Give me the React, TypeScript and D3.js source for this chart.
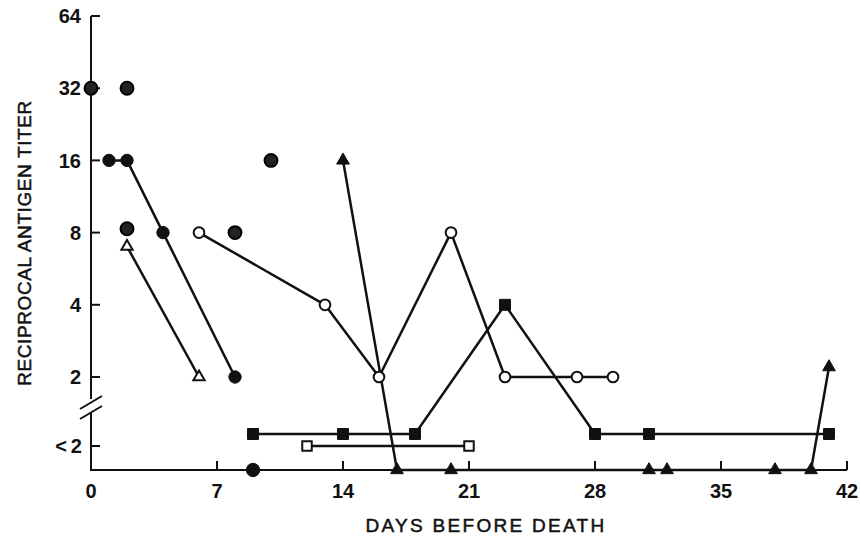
import * as d3 from 'd3';

const width = 860;
const height = 540;

// x axis: days before death, y axis: titer (log2), with a "<2" band under the break
const xTicks = [0, 7, 14, 21, 28, 35, 42];
const yTicks = [2, 4, 8, 16, 32, 64];
const lowTickLabel = '<\u20092';
const lowTickValue = 1;

// values below 2 are "<2" results, spread over the band below the axis break
const daysFilledCircle = [1, 2, 4, 8];
const titerFilledCircle = [16, 16, 8, 2];

const daysOpenTriangle = [2, 6];
const titerOpenTriangle = [7, 2];

const daysOpenCircle = [6, 13, 16, 20, 23, 27, 29];
const titerOpenCircle = [8, 4, 2, 8, 2, 2, 2];

const daysFilledTriangle = [14, 17, 20, 31, 32, 38, 40, 41];
const titerFilledTriangle = [16, 0, 0, 0, 0, 0, 0, 2.2];

const daysFilledSquare = [9, 14, 18, 23, 28, 31, 41];
const titerFilledSquare = [1.5, 1.5, 1.5, 4, 1.5, 1.5, 1.5];

const daysOpenSquare = [12, 21];
const titerOpenSquare = [1, 1];

const daysSingle = [9];
const titerSingle = [0];

// single determinations (shaded dots)
const daysShaded = [0, 2, 2, 8, 10];
const titerShaded = [32, 32, 8.3, 8, 16];

const x = d3.scaleLinear().domain([0, 42]).range([91, 847]);
const yLog = d3.scaleLog().base(2).domain([2, 64]).range([377, 16]);
const yLow = d3.scaleLinear().domain([0, 1]).range([470, 446]);
const y = (v: number) => (v >= 2 ? yLog(v) : yLow(v));

const zip = (a: number[], b: number[]) => a.map((d, i) => [d, b[i]] as [number, number]);

const line = d3
  .line<[number, number]>()
  .x((d) => x(d[0]))
  .y((d) => y(d[1]));

const sym = (type: d3.SymbolType, size: number) => d3.symbol().type(type).size(size)() || '';

const series = [
  { pts: zip(daysFilledCircle, titerFilledCircle), shape: sym(d3.symbolCircle, 120), open: false, joined: true },
  { pts: zip(daysOpenTriangle, titerOpenTriangle), shape: sym(d3.symbolTriangle, 55), open: true, joined: true },
  { pts: zip(daysOpenCircle, titerOpenCircle), shape: sym(d3.symbolCircle, 90), open: true, joined: true },
  { pts: zip(daysFilledTriangle, titerFilledTriangle), shape: sym(d3.symbolTriangle, 70), open: false, joined: true },
  { pts: zip(daysFilledSquare, titerFilledSquare), shape: sym(d3.symbolSquare, 120), open: false, joined: true },
  { pts: zip(daysOpenSquare, titerOpenSquare), shape: sym(d3.symbolSquare, 90), open: true, joined: true },
  { pts: zip(daysSingle, titerSingle), shape: sym(d3.symbolCircle, 140), open: false, joined: false },
];

const shaded = zip(daysShaded, titerShaded);

const font = '"Liberation Sans", Arial, Helvetica, sans-serif';
const ink = '#111';

export default function App() {
  const axisX = x(0);
  const base = yLow(0);
  return (
    <svg width={width} height={height} style={{ position: 'absolute', left: 0, top: 0, background: '#fff' }}>
      {/* y axis with break */}
      <g stroke={ink} strokeWidth={2} fill="none">
        <line x1={axisX} x2={axisX} y1={yLog(64)} y2={399} />
        <line x1={axisX} x2={axisX} y1={413} y2={base + 1} />
        <line x1={80} y1={409} x2={102} y2={396} />
        <line x1={80} y1={419} x2={102} y2={406} />
        <line x1={axisX} x2={x(42)} y1={base} y2={base} />
        {yTicks.map((t) => (
          <line key={t} x1={axisX} x2={axisX + 9} y1={yLog(t)} y2={yLog(t)} />
        ))}
        <line x1={axisX} x2={axisX + 9} y1={yLow(lowTickValue)} y2={yLow(lowTickValue)} />
        {xTicks.map((t) => (
          <line key={t} x1={x(t)} x2={x(t)} y1={base} y2={base - 9} />
        ))}
      </g>
      <g fontFamily={font} fontWeight="bold" fontSize={20} fill={ink}>
        {yTicks.map((t) => (
          <text key={t} x={81} y={yLog(t)} dy="0.36em" textAnchor="end">
            {t}
          </text>
        ))}
        <text x={82} y={yLow(lowTickValue)} dy="0.36em" textAnchor="end">
          {lowTickLabel}
        </text>
        {xTicks.map((t) => (
          <text key={t} x={x(t)} y={498} textAnchor="middle">
            {t}
          </text>
        ))}
      </g>
      <g fontFamily={font} fontSize={19} fill={ink} stroke={ink} strokeWidth={0.5}>
        <text x={486} y={532} textAnchor="middle" letterSpacing={2.3}>
          DAYS BEFORE DEATH
        </text>
        <text transform={`translate(31, 243) rotate(-90)`} textAnchor="middle" letterSpacing={0.6}>
          RECIPROCAL ANTIGEN TITER
        </text>
      </g>
      {/* connecting lines */}
      <g fill="none" stroke={ink} strokeWidth={2.5} strokeLinejoin="round">
        {series
          .filter((s) => s.joined)
          .map((s, i) => (
            <path key={i} d={line(s.pts) || ''} />
          ))}
      </g>
      {/* markers */}
      {series.map((s, i) => (
        <g key={i}>
          {s.pts.map((p, j) => (
            <path
              key={j}
              d={s.shape}
              transform={`translate(${x(p[0])},${y(p[1])})`}
              fill={s.open ? '#fff' : ink}
              stroke={ink}
              strokeWidth={s.open ? 2 : 1}
            />
          ))}
        </g>
      ))}
      {shaded.map((p, j) => (
        <path
          key={j}
          d={sym(d3.symbolCircle, 130)}
          transform={`translate(${x(p[0])},${y(p[1])})`}
          fill="#222"
          stroke="#000"
          strokeWidth={2}
        />
      ))}
    </svg>
  );
}
